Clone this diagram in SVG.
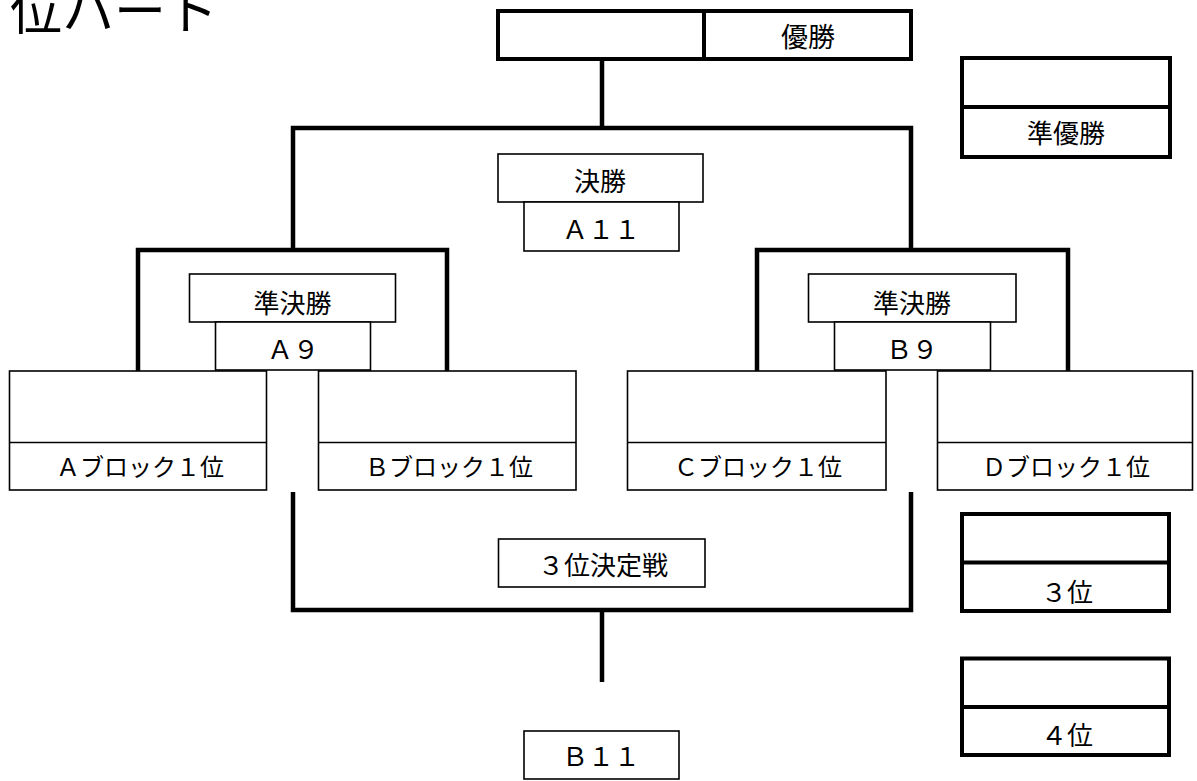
<svg xmlns="http://www.w3.org/2000/svg" width="1197" height="781" viewBox="0 0 1197 781">
<style>
text{font-family:"Noto Sans CJK JP","Noto Sans CJK SC",sans-serif;fill:#000;text-anchor:middle}
.thick{fill:#fff;stroke:#000;stroke-width:4}
.thin{fill:#fff;stroke:#000;stroke-width:1.6}
.tl{fill:none;stroke:#000;stroke-width:1.6}
.conn{fill:none;stroke:#000;stroke-width:4.5;stroke-linecap:butt;stroke-linejoin:miter}
.k{font-size:26px}
.b{font-size:24px}
</style>
<rect width="1197" height="781" fill="#fff"/>
<text x="10" y="30" font-size="52" style="text-anchor:start">位ハート</text>
<g id="connectors">
<line class="conn" x1="602" y1="59" x2="602" y2="128"/>
<polyline class="conn" points="293,250 293,128 911,128 911,250"/>
<polyline class="conn" points="138,371 138,250 447,250 447,371"/>
<polyline class="conn" points="757,371 757,250 1068,250 1068,371"/>
<polyline class="conn" points="293,492 293,610 911,610 911,492"/>
<line class="conn" x1="602" y1="610" x2="602" y2="682"/>
</g>
<g id="winner">
<rect class="thick" x="498" y="11" width="413" height="48"/>
<line x1="704" y1="11" x2="704" y2="59" stroke="#000" stroke-width="4"/>
<text x="808" y="47" font-size="27">優勝</text>
</g>
<g id="runnerup">
<rect class="thick" x="962" y="58" width="208" height="99"/>
<line x1="962" y1="107" x2="1170" y2="107" stroke="#000" stroke-width="4"/>
<text class="k" x="1066" y="143">準優勝</text>
</g>
<g id="final">
<rect class="thin" x="498" y="154" width="205" height="48"/>
<rect class="thin" x="524" y="202" width="155" height="49"/>
<text class="k" x="600" y="191">決勝</text>
<text class="k" x="601" y="239">Ａ１１</text>
</g>
<g id="semi-a">
<rect class="thin" x="189.5" y="274" width="206" height="48"/>
<rect class="thin" x="215.5" y="322" width="155" height="48"/>
<text class="k" x="292.5" y="313">準決勝</text>
<text class="k" x="293" y="359">Ａ９</text>
</g>
<g id="semi-b">
<rect class="thin" x="808.5" y="274" width="207.5" height="48"/>
<rect class="thin" x="834.5" y="322" width="156" height="48"/>
<text class="k" x="912" y="313">準決勝</text>
<text class="k" x="912" y="359">Ｂ９</text>
</g>
<g id="block-a">
<rect class="thin" x="9.5" y="371" width="257" height="119"/>
<line class="tl" x1="9.5" y1="442.5" x2="266.5" y2="442.5"/>
<text class="b" x="140" y="476">Ａブロック１位</text>
</g>
<g id="block-b">
<rect class="thin" x="318.5" y="371" width="257.5" height="119"/>
<line class="tl" x1="318.5" y1="442.5" x2="576" y2="442.5"/>
<text class="b" x="449" y="476">Ｂブロック１位</text>
</g>
<g id="block-c">
<rect class="thin" x="627.5" y="371" width="258.5" height="119"/>
<line class="tl" x1="627.5" y1="442.5" x2="886" y2="442.5"/>
<text class="b" x="758" y="476">Ｃブロック１位</text>
</g>
<g id="block-d">
<rect class="thin" x="937.5" y="371" width="255" height="119"/>
<line class="tl" x1="937.5" y1="442.5" x2="1192.5" y2="442.5"/>
<text class="b" x="1066" y="476">Ｄブロック１位</text>
</g>
<g id="third-match">
<rect class="thin" x="498.5" y="539" width="206.5" height="48"/>
<text class="k" x="603" y="575">３位決定戦</text>
</g>
<g id="b11">
<rect class="thin" x="524" y="731" width="155" height="48"/>
<text class="k" x="601" y="766">Ｂ１１</text>
</g>
<g id="third">
<rect class="thick" x="962" y="514" width="207" height="97"/>
<line x1="962" y1="562.5" x2="1169" y2="562.5" stroke="#000" stroke-width="4"/>
<text class="k" x="1067" y="602">３位</text>
</g>
<g id="fourth">
<rect class="thick" x="962" y="658.5" width="207" height="96.5"/>
<line x1="962" y1="707" x2="1169" y2="707" stroke="#000" stroke-width="4"/>
<text class="k" x="1067" y="745">４位</text>
</g>
</svg>
